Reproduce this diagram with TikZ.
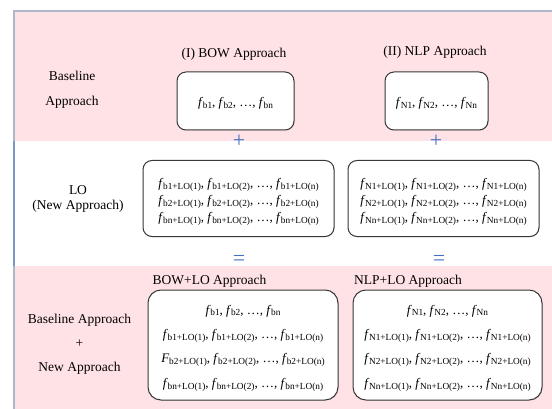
\documentclass[tikz,border=0pt]{standalone}
\usepackage{fontspec}
\setmainfont{Liberation Serif}
\usetikzlibrary{shadows}
\definecolor{bandpink}{RGB}{255,226,229}
\definecolor{edgegray}{RGB}{172,184,202}
\definecolor{edgeblue}{RGB}{122,152,192}
\definecolor{signblue}{RGB}{68,114,196}
\newcommand{\fv}[1]{\textit{f}\kern-0.3pt\raisebox{-1.8pt}{\fontsize{9.3}{10}\selectfont #1}}
\newcommand{\Fv}[1]{\textit{F}\kern-0.3pt\raisebox{-1.8pt}{\fontsize{9.3}{10}\selectfont #1}}
\tikzset{
  lab/.style={font=\fontsize{13.5}{16}\selectfont, inner sep=0pt, align=center},
  fbox/.style={draw=black!78, line width=1pt, rounded corners=9pt, fill=white,
    drop shadow={opacity=0.25, shadow xshift=0.7pt, shadow yshift=-0.7pt},
    inner sep=0pt},
  ftext/.style={align=center, inner sep=0pt},
  sign/.style={text=signblue, font=\fontsize{22}{22}\selectfont, inner sep=0pt}
}
\begin{document}
\begin{tikzpicture}[x=1pt,y=-1pt]
\useasboundingbox (0,0) rectangle (552,409);
% bands
\fill[bandpink] (13,10) rectangle (552,141);
\fill[bandpink] (13,266) rectangle (552,409);
\draw[edgegray, line width=1.6pt] (13,10.8) -- (552,10.8);
\draw[edgegray, line width=2pt] (13.8,10) -- (13.8,409);
\draw[edgeblue, line width=2.4pt] (13.8,141) -- (13.8,266);
% row 1
\node[lab] (bowt) at (234,54.5) {(I) BOW Approach};
\node[lab] (nlpt) at (435,52) {(II) NLP Approach};
\node[lab, font=\fontsize{13.5}{24.5}\selectfont] (base) at (72,90) {Baseline\\Approach};
\node[fbox, minimum width=117pt, minimum height=58pt] (b1) at (235.5,101) {};
\node[ftext, font=\fontsize{13}{16}\selectfont] (b1t) at (235.5,103.5) {\fv{b1}, \fv{b2}, …, \fv{bn}};
\node[fbox, minimum width=103pt, minimum height=58pt] (b2) at (436.5,101) {};
\node[ftext, font=\fontsize{13}{16}\selectfont] (b2t) at (436.5,103.5) {\fv{N1}, \fv{N2}, …, \fv{Nn}};
\node[sign] (p1) at (239,141.5) {+};
\node[sign] (p2) at (436,141.5) {+};
% row 2
\node[lab, font=\fontsize{13.5}{15.5}\selectfont] (lo) at (78,199) {LO\\(New Approach)};
\node[fbox, minimum width=191pt, minimum height=76pt] (l1) at (238.5,198.5) {};
\node[ftext, font=\fontsize{13}{17}\selectfont] (l1t) at (238.5,202)
  {\fv{b1+LO(1)}, \fv{b1+LO(2)}, …, \fv{b1+LO(n)}\\
   \fv{b2+LO(1)}, \fv{b2+LO(2)}, …, \fv{b2+LO(n)}\\
   \fv{bn+LO(1)}, \fv{bn+LO(2)}, …, \fv{bn+LO(n)}};
\node[fbox, minimum width=191pt, minimum height=76pt] (l2) at (443.5,198.5) {};
\node[ftext, font=\fontsize{13}{17}\selectfont] (l2t) at (443.5,202)
  {\fv{N1+LO(1)}, \fv{N1+LO(2)}, …, \fv{N1+LO(n)}\\
   \fv{N2+LO(1)}, \fv{N2+LO(2)}, …, \fv{N2+LO(n)}\\
   \fv{Nn+LO(1)}, \fv{Nn+LO(2)}, …, \fv{Nn+LO(n)}};
\node[sign] (e1) at (239,260.5) {=};
\node[sign] (e2) at (439,260.5) {=};
% row 3
\node[lab] (bowlo) at (209.5,281) {BOW+LO Approach};
\node[lab] (nlplo) at (408,281.5) {NLP+LO Approach};
\node[lab, font=\fontsize{13.5}{24.2}\selectfont] (comb) at (79.5,344) {Baseline Approach\\+\\New Approach};
\node[fbox, minimum width=190pt, minimum height=110pt, rounded corners=13pt] (c1) at (243,345) {};
\node[ftext, font=\fontsize{13}{24.4}\selectfont] (c1t) at (243,348)
  {\fv{b1}, \fv{b2}, …, \fv{bn}\\
   \fv{b1+LO(1)}, \fv{b1+LO(2)}, …, \fv{b1+LO(n)}\\
   \Fv{b2+LO(1)}, \fv{b2+LO(2)}, …, \fv{b2+LO(n)}\\
   \fv{bn+LO(1)}, \fv{bn+LO(2)}, …, \fv{bn+LO(n)}};
\node[fbox, minimum width=189pt, minimum height=110pt, rounded corners=13pt] (c2) at (447.5,345) {};
\node[ftext, font=\fontsize{13}{24.4}\selectfont] (c2t) at (447.5,348)
  {\fv{N1}, \fv{N2}, …, \fv{Nn}\\
   \fv{N1+LO(1)}, \fv{N1+LO(2)}, …, \fv{N1+LO(n)}\\
   \fv{N2+LO(1)}, \fv{N2+LO(2)}, …, \fv{N2+LO(n)}\\
   \fv{Nn+LO(1)}, \fv{Nn+LO(2)}, …, \fv{Nn+LO(n)}};
\end{tikzpicture}
\end{document}
